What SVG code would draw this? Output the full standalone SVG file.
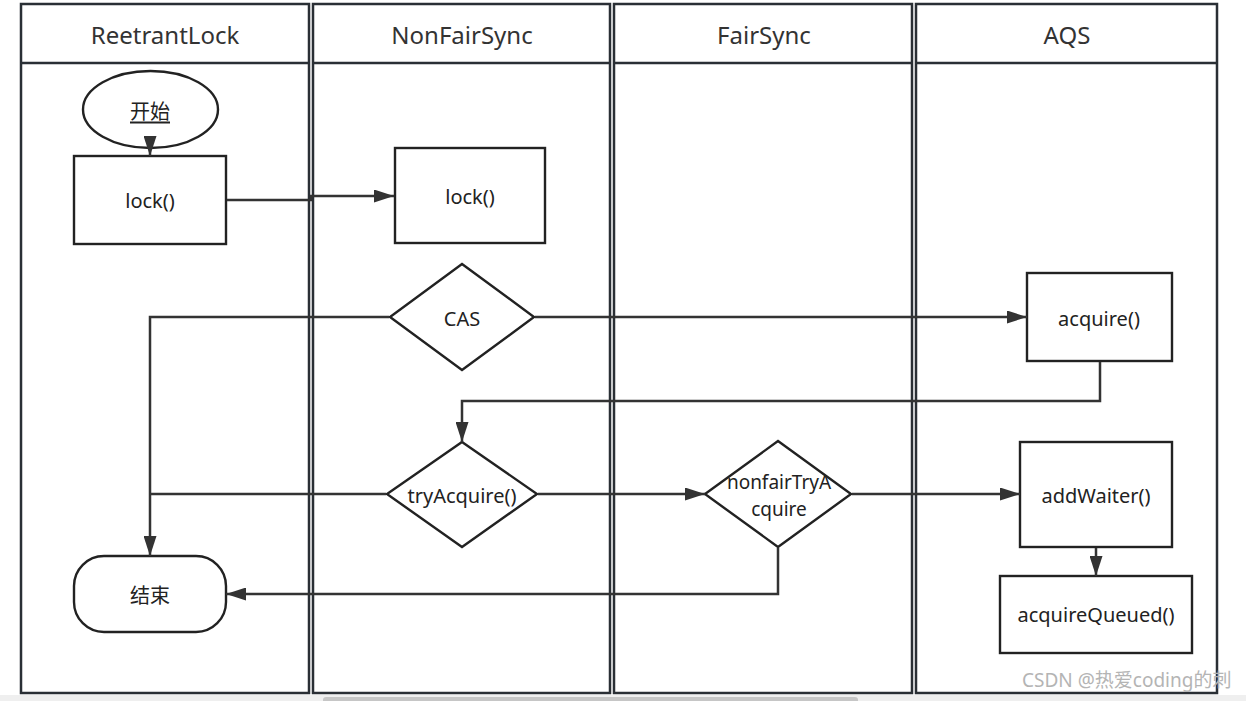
<svg xmlns="http://www.w3.org/2000/svg" width="1246" height="701" viewBox="0 0 1246 701">
<style>
.lane{fill:#fff;stroke:#2a2f35;stroke-width:2.5}
.hdr{fill:none;stroke:#2a2f35;stroke-width:2.5}
.ht{font-family:"Noto Sans","Noto Sans CJK SC",sans-serif;font-size:24px;fill:#333;text-anchor:middle;dominant-baseline:central}
.shape{fill:#fff;stroke:#222;stroke-width:2.4}
.t{font-family:"Noto Sans","Noto Sans CJK SC",sans-serif;font-size:20px;fill:#222;text-anchor:middle;dominant-baseline:central}
.t2{font-family:"Noto Sans","Noto Sans CJK SC",sans-serif;font-size:19px;fill:#222;text-anchor:middle;dominant-baseline:central}
.c{fill:none;stroke:#333;stroke-width:2.5}
.wm{font-family:"Noto Sans","Noto Sans CJK SC",sans-serif;font-size:19px;fill:#b4b4b4}
</style>
<defs>
<marker id="arr" markerUnits="userSpaceOnUse" markerWidth="20" markerHeight="13" refX="20" refY="6.5" orient="auto">
<path d="M0,0 L20,6.5 L0,13 z" fill="#333"/>
</marker>
</defs>
<rect width="1246" height="701" fill="#fff"/>
<g id="lanes">
<g id="lane-reetrantlock">
<rect class="lane" x="21" y="4" width="288" height="689"/>
<line class="hdr" x1="21" y1="63" x2="309" y2="63"/>
<text class="ht" x="165" y="34">ReetrantLock</text>
</g>
<g id="lane-nonfairsync">
<rect class="lane" x="313" y="4" width="297" height="689"/>
<line class="hdr" x1="313" y1="63" x2="610" y2="63"/>
<text class="ht" x="462" y="34">NonFairSync</text>
</g>
<g id="lane-fairsync">
<rect class="lane" x="614" y="4" width="298" height="689"/>
<line class="hdr" x1="614" y1="63" x2="912" y2="63"/>
<text class="ht" x="764" y="34">FairSync</text>
</g>
<g id="lane-aqs">
<rect class="lane" x="916" y="4" width="301" height="689"/>
<line class="hdr" x1="916" y1="63" x2="1217" y2="63"/>
<text class="ht" x="1067" y="34">AQS</text>
</g>
</g>
<g id="node-start">
<ellipse class="shape" cx="150.5" cy="109.5" rx="67.5" ry="38.5"/>
<text class="t" x="150" y="111" text-decoration="underline">开始</text>
</g>
<g id="node-rl-lock">
<rect class="shape" x="74" y="156" width="152" height="88"/>
<text class="t" x="150" y="200">lock()</text>
</g>
<g id="node-nfs-lock">
<rect class="shape" x="395" y="148" width="150" height="95"/>
<text class="t" x="470" y="196">lock()</text>
</g>
<g id="node-cas">
<polygon class="shape" points="462,264 534,317 462,370 390,317"/>
<text class="t" x="462" y="318">CAS</text>
</g>
<g id="node-tryacquire">
<polygon class="shape" points="462,442 537,494 462,547 387,494"/>
<text class="t" x="462" y="495">tryAcquire()</text>
</g>
<g id="node-nonfairtryacquire">
<polygon class="shape" points="778,441 851,494 778,547 705,494"/>
<text class="t2" x="779" y="481.5">nonfairTryA</text>
<text class="t2" x="779" y="508.5">cquire</text>
</g>
<g id="node-end">
<rect class="shape" x="74" y="556" width="152" height="76" rx="30" ry="30"/>
<text class="t" x="150" y="595">结束</text>
</g>
<g id="node-acquire">
<rect class="shape" x="1027" y="273" width="145" height="88"/>
<text class="t" x="1099" y="318">acquire()</text>
</g>
<g id="node-addwaiter">
<rect class="shape" x="1020" y="442" width="152" height="105"/>
<text class="t" x="1096" y="495">addWaiter()</text>
</g>
<g id="node-acquirequeued">
<rect class="shape" x="1000" y="576" width="192" height="77"/>
<text class="t" x="1096" y="614">acquireQueued()</text>
</g>
<g id="connectors">
<path class="c" d="M150,136 L150,156" marker-end="url(#arr)"/>
<path class="c" d="M227,200 L311,200 L311,196 L394,196" marker-end="url(#arr)"/>
<path class="c" d="M535,317 L1027,317" marker-end="url(#arr)"/>
<path class="c" d="M389,317 L150,317 L150,556" marker-end="url(#arr)"/>
<path class="c" d="M1100,362 L1100,401 L462,401 L462,442" marker-end="url(#arr)"/>
<path class="c" d="M386,494 L150,494"/>
<path class="c" d="M538,494 L705,494" marker-end="url(#arr)"/>
<path class="c" d="M852,494 L1020,494" marker-end="url(#arr)"/>
<path class="c" d="M778,548 L778,594 L226,594" marker-end="url(#arr)"/>
<path class="c" d="M1096,548 L1096,576" marker-end="url(#arr)"/>
</g>
<text class="wm" x="1022" y="687">CSDN @热爱coding的刺</text>
<rect x="0" y="695" width="1246" height="6" fill="#efefef"/>
<rect x="323" y="697" width="535" height="6" rx="3" fill="#c6c6c6"/>
</svg>
